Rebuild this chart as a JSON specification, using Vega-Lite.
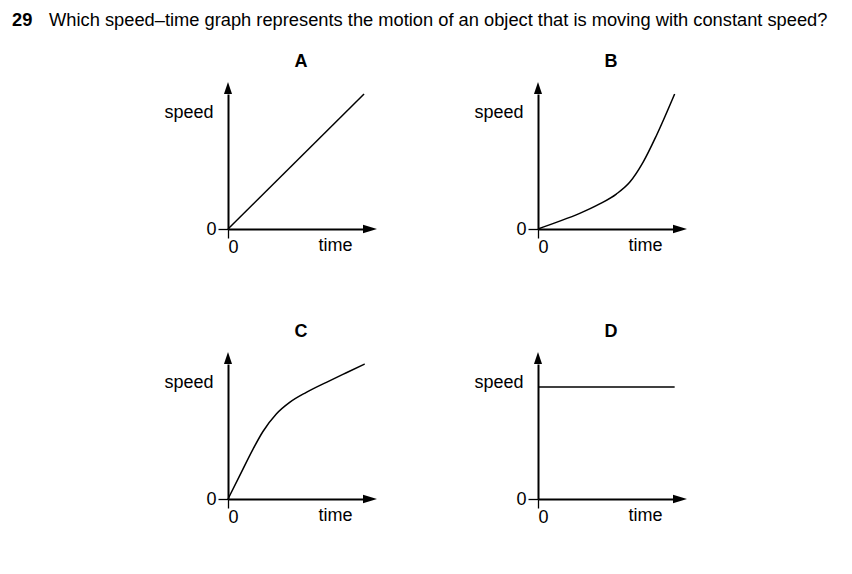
{
  "$schema": "https://vega.github.io/schema/vega-lite/v6.json",
  "padding": {"left": 12, "top": 9, "right": 24, "bottom": 52},
  "background": "white",
  "config": {"view": {"stroke": null}, "font": "Liberation Sans"},
  "data": {"values": [
    {"panel": "A", "t": 0, "s": 0},
    {"panel": "A", "t": 9.07, "s": 9.0},
    {"panel": "B", "t": 0, "s": 0},
    {"panel": "B", "t": 1.22, "s": 0.44},
    {"panel": "B", "t": 2.78, "s": 1.04},
    {"panel": "B", "t": 4.11, "s": 1.67},
    {"panel": "B", "t": 5.22, "s": 2.33},
    {"panel": "B", "t": 6.11, "s": 3.11},
    {"panel": "B", "t": 7.0, "s": 4.44},
    {"panel": "B", "t": 7.89, "s": 6.22},
    {"panel": "B", "t": 9.11, "s": 9.0},
    {"panel": "C", "t": 0, "s": 0},
    {"panel": "C", "t": 0.78, "s": 1.56},
    {"panel": "C", "t": 1.67, "s": 3.33},
    {"panel": "C", "t": 2.33, "s": 4.5},
    {"panel": "C", "t": 3.22, "s": 5.67},
    {"panel": "C", "t": 4.11, "s": 6.44},
    {"panel": "C", "t": 5.22, "s": 7.11},
    {"panel": "C", "t": 6.56, "s": 7.78},
    {"panel": "C", "t": 7.89, "s": 8.42},
    {"panel": "C", "t": 9.11, "s": 9.0},
    {"panel": "D", "t": 0, "s": 7.47},
    {"panel": "D", "t": 9.11, "s": 7.47}
  ]},
  "facet": {"field": "panel", "type": "nominal", "header": {"title": null, "labelExpr": "''", "labelFontSize": 1, "labelPadding": 0}},
  "columns": 2,
  "spacing": {"column": 175, "row": 135},
  "bounds": "flush",
  "resolve": {"axis": {"x": "independent", "y": "independent"}},
  "spec": {
    "width": 135,
    "height": 135,
    "layer": [
      {
        "mark": {"type": "line", "color": "black", "strokeWidth": 1.5, "interpolate": "monotone"},
        "encoding": {
          "x": {"field": "t", "type": "quantitative", "scale": {"domain": [0, 9], "nice": false, "zero": false},
            "axis": {"title": "time", "values": [0], "grid": false, "domainColor": "black", "domainWidth": 2, "tickColor": "black", "tickWidth": 1.3, "tickSize": 9, "labelFontSize": 18, "labelColor": "black", "labelPadding": 0, "labelFont": "Liberation Sans", "titleFont": "Liberation Sans", "titleFontSize": 18, "titleFontWeight": "normal", "titleColor": "black", "titleX": 107, "titleY": 16, "titleBaseline": "middle", "titleAlign": "center"}},
          "y": {"field": "s", "type": "quantitative", "scale": {"domain": [0, 9], "nice": false, "zero": false},
            "axis": {"title": "speed", "values": [0], "grid": false, "domainColor": "black", "domainWidth": 2, "tickColor": "black", "tickWidth": 1.3, "tickSize": 10, "labelFontSize": 18, "labelColor": "black", "labelPadding": 2, "labelFont": "Liberation Sans", "titleFont": "Liberation Sans", "titleFontSize": 18, "titleFontWeight": "normal", "titleColor": "black", "titleAngle": 0, "titleX": -15, "titleY": 18.5, "titleBaseline": "middle", "titleAlign": "right"}}
        }
      },
      {
        "transform": [{"filter": "datum.t == 0"}],
        "mark": {"type": "point", "shape": "M0,-2L0.67,0L-0.67,0Z", "filled": true, "color": "black", "opacity": 1, "size": 144},
        "encoding": {"x": {"datum": 0}, "y": {"datum": 9}}
      },
      {
        "transform": [{"filter": "datum.t == 0"}],
        "mark": {"type": "point", "shape": "M0,-2L0.62,0L-0.62,0Z", "filled": true, "color": "black", "opacity": 1, "size": 196, "angle": 90},
        "encoding": {"x": {"datum": 9}, "y": {"datum": 0}}
      },
      {
        "transform": [{"filter": "datum.t == 0"}],
        "mark": {"type": "text", "fontSize": 18, "fontWeight": "bold", "color": "black", "align": "center", "baseline": "middle"},
        "encoding": {"x": {"datum": 4.87}, "y": {"datum": 11.13}, "text": {"field": "panel"}}
      },
      {
        "transform": [{"filter": "datum.t == 0 && datum.panel == 'A'"}],
        "mark": {"type": "text", "fontSize": 18.3, "fontWeight": "bold", "color": "black", "align": "left", "baseline": "middle"},
        "encoding": {"x": {"datum": -14.4}, "y": {"datum": 13.87}, "text": {"value": "29"}}
      },
      {
        "transform": [{"filter": "datum.t == 0 && datum.panel == 'A'"}],
        "mark": {"type": "text", "fontSize": 18.3, "color": "black", "align": "left", "baseline": "middle"},
        "encoding": {"x": {"datum": -11.93}, "y": {"datum": 13.87}, "text": {"value": "Which speed–time graph represents the motion of an object that is moving with constant speed?"}}
      }
    ]
  }
}
